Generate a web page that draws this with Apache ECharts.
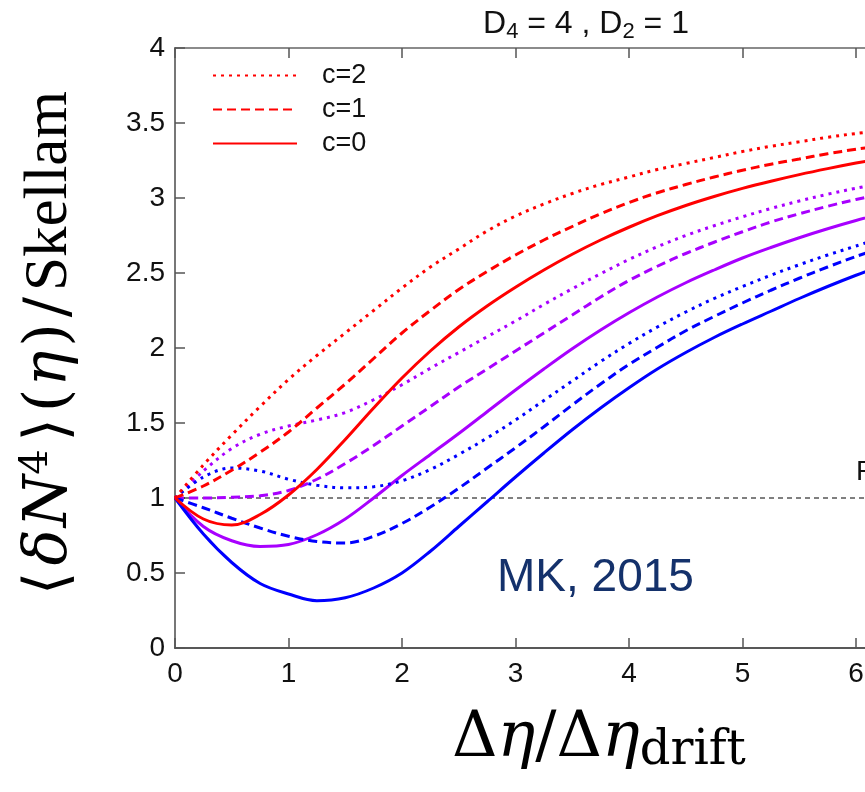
<!DOCTYPE html>
<html>
<head>
<meta charset="utf-8">
<script src="https://cdn.jsdelivr.net/npm/echarts@6/dist/echarts.min.js"></script>
<style>
  html, body { margin: 0; padding: 0; background: #ffffff; }
  #chart { width: 865px; height: 792px; }
</style>
</head>
<body>
<div id="chart"></div>
<script>
// Rapidity-window dependence of the fourth cumulant normalised by the Skellam value
const eta = [0, 0.25, 0.5, 0.75, 1, 1.25, 1.5, 1.75, 2, 2.25, 2.5, 2.75, 3, 3.25, 3.5, 3.75, 4, 4.25, 4.5, 4.75, 5, 5.25, 5.5, 5.75, 6, 6.25];

// red family
const redC2 = [1, 1.22, 1.42, 1.61, 1.79, 1.95, 2.10, 2.25, 2.40, 2.54, 2.66, 2.78, 2.88, 2.96, 3.03, 3.09, 3.14, 3.19, 3.23, 3.27, 3.31, 3.345, 3.375, 3.405, 3.43, 3.45];
const redC1 = [1, 1.08, 1.185, 1.305, 1.44, 1.60, 1.76, 1.93, 2.10, 2.25, 2.39, 2.51, 2.62, 2.72, 2.81, 2.895, 2.97, 3.035, 3.09, 3.14, 3.185, 3.225, 3.26, 3.295, 3.325, 3.35];
const redC0 = [1, 0.86, 0.82, 0.89, 1.02, 1.19, 1.39, 1.60, 1.80, 1.98, 2.14, 2.28, 2.405, 2.52, 2.625, 2.72, 2.805, 2.882, 2.95, 3.01, 3.064, 3.112, 3.156, 3.196, 3.233, 3.267];

// violet family
const vioC2 = [1, 1.18, 1.33, 1.425, 1.48, 1.52, 1.57, 1.655, 1.755, 1.865, 1.97, 2.075, 2.18, 2.29, 2.395, 2.495, 2.59, 2.675, 2.75, 2.815, 2.875, 2.93, 2.98, 3.025, 3.065, 3.10];
const vioC1 = [1, 1.0, 1.005, 1.015, 1.05, 1.125, 1.23, 1.35, 1.48, 1.61, 1.74, 1.86, 1.98, 2.10, 2.22, 2.34, 2.45, 2.545, 2.63, 2.705, 2.775, 2.84, 2.895, 2.945, 2.99, 3.03];
const vioC0 = [1, 0.81, 0.715, 0.677, 0.69, 0.755, 0.86, 1.0, 1.15, 1.29, 1.43, 1.575, 1.72, 1.86, 1.995, 2.12, 2.235, 2.34, 2.435, 2.52, 2.60, 2.67, 2.735, 2.795, 2.85, 2.90];

// blue family
const bluC2 = [1, 1.14, 1.20, 1.18, 1.125, 1.085, 1.068, 1.075, 1.115, 1.19, 1.29, 1.40, 1.52, 1.65, 1.78, 1.91, 2.03, 2.14, 2.24, 2.33, 2.41, 2.485, 2.555, 2.62, 2.68, 2.74];
const bluC1 = [1, 0.935, 0.865, 0.80, 0.745, 0.71, 0.70, 0.745, 0.83, 0.94, 1.065, 1.20, 1.335, 1.475, 1.62, 1.76, 1.89, 2.005, 2.115, 2.21, 2.30, 2.385, 2.465, 2.54, 2.61, 2.675];
const bluC0 = [1, 0.76, 0.57, 0.43, 0.36, 0.315, 0.335, 0.40, 0.50, 0.645, 0.81, 0.975, 1.14, 1.30, 1.455, 1.60, 1.735, 1.86, 1.97, 2.07, 2.16, 2.245, 2.33, 2.41, 2.485, 2.555];

const poissonLevel = 1;
const xRange = [0, 8];
const yRange = [0, 4];
const legendNames = ['c=2', 'c=1', 'c=0'];

const RED = '#ff0000';
const VIOLET = '#a800ff';
const BLUE = '#0000ff';
const DOT = [3, 5];
const DASH = [9, 5];

const sans = '"Liberation Sans", Arial, sans-serif';
const narrow = '"Liberation Sans Narrow", "Liberation Sans", Arial, sans-serif';
const serif = '"Liberation Serif", "DejaVu Serif", serif';
const mathSerif = '"DejaVu Serif", "Liberation Serif", serif';

function pts(ys) { return eta.map((x, i) => [x, ys[i]]); }

function curve(name, ys, color, dash) {
  return {
    name: name,
    type: 'line',
    data: pts(ys),
    smooth: 0.35,
    symbol: 'none',
    silent: true,
    lineStyle: { color: color, width: 3, type: dash, cap: 'butt' },
    itemStyle: { color: color },
    z: 3
  };
}

const chart = echarts.init(document.getElementById('chart'), null, { renderer: 'canvas' });

const axisCommon = {
  type: 'value',
  min: xRange[0],
  max: xRange[1],
  interval: 1,
  splitLine: { show: false },
  axisTick: { show: true, inside: true, length: 10, lineStyle: { color: '#555', width: 1.5 } }
};

chart.setOption({
  animation: false,
  backgroundColor: '#ffffff',
  grid: {
    left: 175, top: 48, width: 908, height: 600,
    containLabel: false,
    outerBoundsMode: 'none'
  },
  legend: {
    data: legendNames,
    orient: 'vertical',
    left: 207,
    top: 57,
    itemWidth: 84,
    itemHeight: 14,
    itemGap: 7,
    selectedMode: false,
    itemStyle: { opacity: 0 },
    textStyle: { fontSize: 27, fontFamily: sans, color: '#111', padding: [0, 0, 0, 20] }
  },
  xAxis: [
    Object.assign({}, axisCommon, {
      position: 'bottom',
      axisLine: { show: true, onZero: false, lineStyle: { color: '#222', width: 1.5 } },
      axisLabel: { fontSize: 28, fontFamily: narrow, color: '#111', margin: 12 }
    }),
    Object.assign({}, axisCommon, {
      position: 'top',
      axisLine: { show: true, onZero: false, lineStyle: { color: '#666', width: 1.5 } },
      axisLabel: { show: false }
    })
  ],
  yAxis: {
    type: 'value',
    min: yRange[0],
    max: yRange[1],
    interval: 0.5,
    splitLine: { show: false },
    axisLine: { show: true, onZero: false, lineStyle: { color: '#777', width: 2 } },
    axisTick: { show: true, inside: true, length: 10, lineStyle: { color: '#555', width: 1.5 } },
    axisLabel: { fontSize: 28, fontFamily: sans, color: '#111', margin: 10 }
  },
  series: [
    {
      name: 'Poisson',
      type: 'line',
      data: [[xRange[0], poissonLevel], [xRange[1], poissonLevel]],
      symbol: 'none',
      silent: true,
      lineStyle: { color: '#000', width: 1, type: [5, 4] },
      z: 2
    },
    curve('violet c=2', vioC2, VIOLET, DOT),
    curve('violet c=1', vioC1, VIOLET, DASH),
    curve('violet c=0', vioC0, VIOLET, 'solid'),
    curve('blue c=2', bluC2, BLUE, DOT),
    curve('blue c=1', bluC1, BLUE, DASH),
    curve('blue c=0', bluC0, BLUE, 'solid'),
    curve('c=2', redC2, RED, DOT),
    curve('c=1', redC1, RED, DASH),
    curve('c=0', redC0, RED, 'solid')
  ],
  graphic: [
    {
      type: 'text',
      x: 586, y: 24,
      style: {
        text: '{t|D}{s|4}{t| = 4 , D}{s|2}{t| = 1}',
        align: 'center', verticalAlign: 'middle',
        rich: {
          t: { fontSize: 32, fontFamily: narrow, fill: '#111' },
          s: { fontSize: 22, fontFamily: narrow, fill: '#111', padding: [16, 0, 0, 0] }
        }
      }
    },
    {
      type: 'text',
      x: 856, y: 472,
      style: { text: 'Poisson', fontSize: 28, fontFamily: narrow, fill: '#111', align: 'left', verticalAlign: 'middle' }
    },
    {
      type: 'text',
      x: 497, y: 578,
      style: { text: 'MK, 2015', fontSize: 46, fontFamily: sans, fill: '#14316b', align: 'left', verticalAlign: 'middle' }
    },
    {
      type: 'text',
      x: 50, y: 345,
      rotation: Math.PI / 2,
      style: {
        text: '{r|⟨}{i|δ}{n|N}{p|4}{r|⟩}{b|(}{i|η}{c|)}{s|/}{w|Skellam}',
        align: 'center', verticalAlign: 'middle',
        rich: {
          r: { fontSize: 60, fontFamily: mathSerif, fill: '#000', padding: [0, 6, 0, 4] },
          b: { fontSize: 60, fontFamily: mathSerif, fill: '#000', padding: [0, 2, 0, 0] },
          c: { fontSize: 60, fontFamily: mathSerif, fill: '#000', padding: [0, 6, 0, 2] },
          s: { fontSize: 60, fontFamily: mathSerif, fill: '#000', padding: [0, 6, 0, 0] },
          i: { fontSize: 60, fontFamily: mathSerif, fontStyle: 'italic', fill: '#000', padding: [0, 2, 0, 0] },
          n: { fontSize: 60, fontFamily: mathSerif, fontStyle: 'italic', fill: '#000' },
          p: { fontSize: 40, fontFamily: mathSerif, fill: '#000', padding: [0, 4, 26, 0] },
          w: { fontSize: 61, fontFamily: serif, fill: '#000' }
        }
      }
    },
    {
      type: 'text',
      x: 599, y: 740,
      style: {
        text: '{r|Δ}{i|η}{r|/Δ}{i|η}{s|drift}',
        align: 'center', verticalAlign: 'middle',
        rich: {
          r: { fontSize: 63, fontFamily: mathSerif, fill: '#000' },
          i: { fontSize: 63, fontFamily: mathSerif, fontStyle: 'italic', fill: '#000' },
          s: { fontSize: 48, fontFamily: mathSerif, fill: '#000', padding: [24, 0, 0, 0] }
        }
      }
    }
  ]
});
</script>
</body>
</html>
